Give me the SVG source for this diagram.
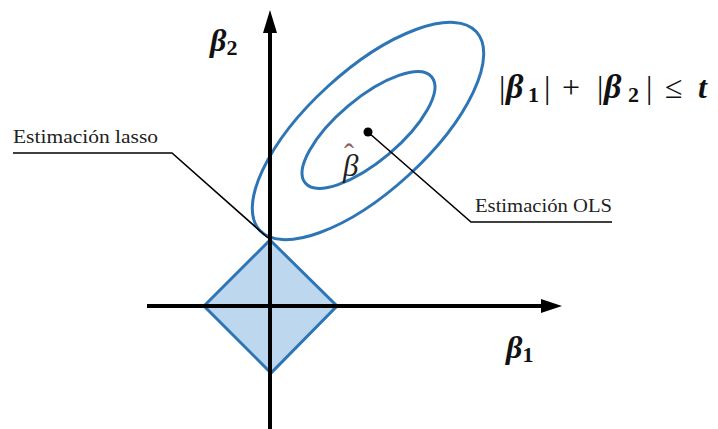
<svg xmlns="http://www.w3.org/2000/svg" width="718" height="429" viewBox="0 0 718 429">
<defs>
<style>
.blue{fill:none;stroke:#2E75B6;stroke-width:3}
.axis{stroke:#000;stroke-width:4;fill:none}
.lead{stroke:#000;stroke-width:1.6;fill:none}
.lbl{font-family:"Liberation Serif","DejaVu Serif",serif;font-size:19px;fill:#222}
.math{font-family:"Liberation Serif","DejaVu Serif",serif;fill:#111}
.bi{font-weight:bold;font-style:italic}
.b{font-weight:bold}
</style>
</defs>
<rect width="718" height="429" fill="#fff"/>
<g id="constraint">
<polygon points="270,240 337,306 271,373 204,306" fill="#BDD7EE" stroke="#2E75B6" stroke-width="3" stroke-linejoin="miter"/>
</g>
<g id="contours">
<ellipse class="blue" cx="368" cy="131" rx="147" ry="60" transform="rotate(-42.5 368 131)"/>
<ellipse class="blue" cx="368.5" cy="130" rx="82.5" ry="31.5" transform="rotate(-40 368.5 130)"/>
</g>
<g id="axes">
<line class="axis" x1="270" y1="30" x2="270" y2="429"/>
<polygon points="270,10 277,33 263,33" fill="#000"/>
<line class="axis" x1="147" y1="306" x2="545" y2="306"/>
<polygon points="562,306 541,299 541,313" fill="#000"/>
</g>
<g id="ols-point">
<circle cx="368" cy="132" r="4.5" fill="#000"/>
<text font-family="Liberation Serif,DejaVu Serif,serif" fill="#222"><tspan x="343" y="176" font-size="31" font-style="italic">β</tspan><tspan x="344" y="164" font-size="30" fill="#8B5A5A">ˆ</tspan></text>
</g>
<g id="connectors">
<polyline class="lead" points="369,133 471,222 612,222"/>
<polyline class="lead" points="13,153 172,153 268,238"/>
</g>
<g id="label-lasso">
<text class="lbl" x="13" y="143" textLength="145" lengthAdjust="spacingAndGlyphs">Estimación lasso</text>
</g>
<g id="label-ols">
<text class="lbl" x="475" y="212" textLength="137" lengthAdjust="spacingAndGlyphs">Estimación OLS</text>
</g>
<g id="label-b2">
<text class="math" x="210" y="51" font-size="32"><tspan class="bi">β</tspan><tspan class="b" font-size="22" dy="4">2</tspan></text>
</g>
<g id="label-b1">
<text class="math" x="506" y="358" font-size="32"><tspan class="bi">β</tspan><tspan class="b" font-size="22" dy="4">1</tspan></text>
</g>
<g id="formula">
<text class="math" y="98" font-size="32"><tspan x="499">|</tspan><tspan class="bi" x="506" font-size="34">β</tspan><tspan class="b" x="528" y="102" font-size="22">1</tspan><tspan x="544" y="98">|</tspan><tspan x="562">+</tspan><tspan x="597">|</tspan><tspan class="bi" x="604" font-size="34">β</tspan><tspan class="b" x="628" y="102" font-size="22">2</tspan><tspan x="646" y="98">|</tspan><tspan x="665">≤</tspan><tspan class="bi" x="698">t</tspan></text>
</g>
</svg>
